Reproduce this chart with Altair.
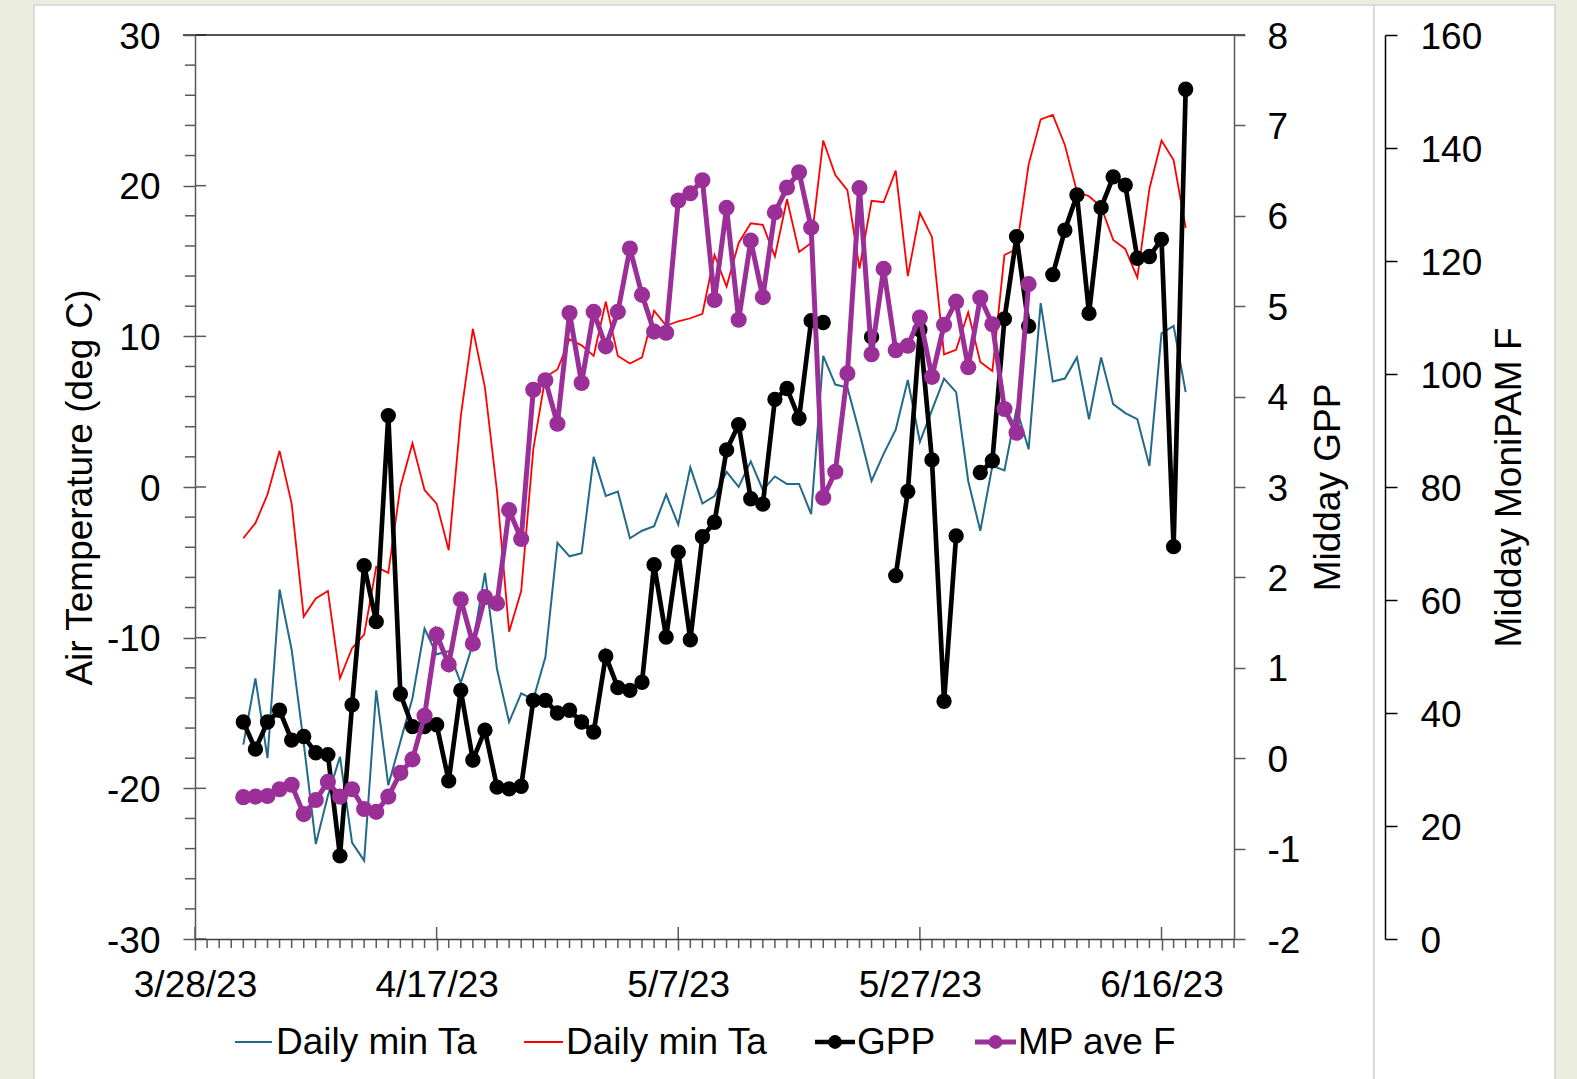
import altair as alt
import pandas as pd

# ---------------- data ----------------
FIRST_DAY = 4          # first sample = 4/1/23, counted in days after 3/28/23
X_END_DAY = 86         # axis ends at 6/22/23

min_ta_blue = [-17.1, -12.7, -18.0, -6.8, -10.8, -17.0, -23.7, -20.5, -17.9, -23.6,
               -24.8, -13.5, -19.8, -16.9, -14.0, -9.4, -11.1, -10.9, -13.0, -10.4,
               -5.7, -12.1, -15.6, -13.7, -14.1, -11.3, -3.7, -4.6, -4.4, 2.0,
               -0.6, -0.3, -3.4, -2.9, -2.6, -0.5, -2.5, 1.3, -1.1, -0.6,
               1.0, 0.0, 1.7, -0.2, 0.7, 0.2, 0.2, -1.8, 8.7, 6.8,
               6.6, 3.6, 0.4, 2.2, 3.8, 7.1, 3.0, 5.1, 7.2, 6.3,
               0.4, -2.9, 1.4, 1.1, 5.2, 2.5, 12.2, 7.0, 7.2, 8.6,
               4.5, 8.6, 5.5, 4.9, 4.5, 1.4, 10.2, 10.7, 6.3]

min_ta_red = [-3.4, -2.4, -0.5, 2.4, -1.1, -8.6, -7.4, -6.9, -12.7, -10.7,
              -9.8, -5.3, -5.7, 0.0, 2.9, -0.2, -1.1, -4.2, 4.7, 10.5,
              6.6, -0.3, -9.6, -6.9, 2.5, 7.3, 7.8, 9.8, 9.4, 8.7,
              12.3, 8.7, 8.2, 8.6, 11.7, 10.7, 11.0, 11.2, 11.5, 15.4,
              13.3, 16.2, 17.5, 17.4, 15.3, 19.1, 15.6, 16.2, 23.0, 20.7,
              19.7, 14.5, 19.0, 18.9, 21.0, 14.0, 18.2, 16.6, 8.8, 9.1,
              11.6, 8.3, 7.7, 15.4, 15.8, 21.4, 24.4, 24.7, 22.7, 19.6,
              19.3, 18.6, 16.4, 15.8, 13.9, 19.8, 23.0, 21.7, 17.2]

gpp = [0.40, 0.10, 0.40, 0.53, 0.20, 0.24, 0.06, 0.04, -1.08, 0.59,
       2.13, 1.51, 3.79, 0.71, 0.35, 0.35, 0.37, -0.25, 0.75, -0.02,
       0.31, -0.32, -0.34, -0.31, 0.64, 0.64, 0.50, 0.53, 0.40, 0.29,
       1.13, 0.78, 0.75, 0.84, 2.14, 1.34, 2.28, 1.31, 2.45, 2.61,
       3.41, 3.69, 2.87, 2.81, 3.97, 4.09, 3.76, 4.84, 4.82, None,
       None, None, 4.66, None, 2.02, 2.95, 4.74, 3.30, 0.63, 2.46,
       None, 3.16, 3.29, 4.86, 5.77, 4.78, None, 5.35, 5.84, 6.23,
       4.92, 6.09, 6.43, 6.34, 5.53, 5.55, 5.74, 2.34, 7.40]

mp_ave_f = [25.1, 25.2, 25.3, 26.5, 27.3, 22.1, 24.6, 27.8, 25.2, 26.5,
            23.0, 22.5, 25.2, 29.4, 31.8, 39.5, 53.9, 48.6, 60.1, 52.3,
            60.5, 59.4, 75.9, 70.8, 97.2, 98.9, 91.2, 110.8, 98.4, 111.0,
            104.9, 111.0, 122.2, 114.0, 107.5, 107.3, 130.7, 132.0, 134.3, 113.1,
            129.4, 109.6, 123.6, 113.6, 128.6, 133.0, 135.7, 125.9, 78.1, 82.7,
            100.1, 132.9, 103.5, 118.6, 104.2, 105.0, 110.0, 99.5, 108.7, 112.8,
            101.2, 113.5, 108.8, 93.8, 89.6, 115.9]

x_tick_days = [0, 20, 40, 60, 80]
x_tick_labels = ["3/28/23", "4/17/23", "5/7/23", "5/27/23", "6/16/23"]
temp_ticks = [-30, -20, -10, 0, 10, 20, 30]
gpp_ticks = [-2, -1, 0, 1, 2, 3, 4, 5, 6, 7, 8]
f_ticks = [0, 20, 40, 60, 80, 100, 120, 140, 160]
legend_labels = ["Daily min Ta", "Daily min Ta", "GPP", "MP ave F"]

# ---------------- tables ----------------
days = list(range(FIRST_DAY, FIRST_DAY + len(min_ta_blue)))
temp_df = pd.DataFrame({"day": days, "blue": min_ta_blue, "red": min_ta_red})

gpp_rows, seg = [], 0
for d, v in zip(days, gpp):
    if v is None:
        seg += 1
    else:
        gpp_rows.append({"day": d, "gpp": v, "seg": seg})
gpp_df = pd.DataFrame(gpp_rows)

f_df = pd.DataFrame({"day": days[:len(mp_ave_f)], "f": mp_ave_f})

minor_days = pd.DataFrame({"day": [d for d in range(0, X_END_DAY + 1) if d not in x_tick_days]})
major_days = pd.DataFrame({"day": x_tick_days})
temp_minor = pd.DataFrame({"v": [v for v in range(-30, 31, 2) if v % 10 != 0]})
temp_major = pd.DataFrame({"v": temp_ticks})
one = pd.DataFrame({"a": [0]})

# ---------------- styles / layout ----------------
FONT = "Liberation Sans"
FS = 37
W, H = 1039, 904
PAD = {"left": 195, "top": 35, "right": 343, "bottom": 140}
AXIS_GRAY = "#595959"
C_BLUE, C_RED, C_BLACK, C_PURPLE = "#22698a", "#ff0000", "#000000", "#9b2f98"

label_expr = "[" + ",".join("'%s'" % s for s in x_tick_labels) + "][round(datum.value / 20)]"
plain_num = "'' + datum.value"   # hyphen-minus like the reference

x_enc = alt.X("day:Q",
              scale=alt.Scale(domain=[0, X_END_DAY], nice=False, zero=False),
              axis=alt.Axis(values=x_tick_days, labelExpr=label_expr, tickSize=11,
                            tickWidth=1.5, tickColor=AXIS_GRAY, domainColor="#404040",
                            domainWidth=1.5, labelFont=FONT, labelFontSize=FS,
                            labelColor="black", labelPadding=17, labelFlush=False,
                            labelOverlap=False, grid=False, title=None, zindex=1))

temp_scale = alt.Scale(domain=[-30, 30], nice=False, zero=False)
gpp_scale = alt.Scale(domain=[-2, 8], nice=False, zero=False)
f_scale = alt.Scale(domain=[0, 160], nice=False, zero=False)

common_axis = dict(labelFont=FONT, labelFontSize=FS, labelColor="black",
                   labelOverlap=False, grid=False, titleFont=FONT, titleFontSize=FS,
                   titleFontWeight="normal", titleColor="black", titleAngle=270,
                   titleAlign="center", titleBaseline="middle", titleY=H / 2,
                   tickWidth=1.5, domainWidth=1.5, labelOffset=2, zindex=1,
                   labelExpr=plain_num)

temp_axis = alt.Axis(orient="left", values=temp_ticks, tickSize=12, tickColor=AXIS_GRAY,
                     domainColor=AXIS_GRAY, labelPadding=23,
                     title="Air Temperature (deg C)", titleX=-115, **common_axis)
gpp_axis = alt.Axis(orient="right", values=gpp_ticks, tickSize=11, tickColor=AXIS_GRAY,
                    domainColor=AXIS_GRAY, labelPadding=22,
                    title="Midday GPP", titleX=94.5, **common_axis)
f_axis = alt.Axis(orient="right", offset=151, values=f_ticks, tickSize=12,
                  tickColor="black", domainColor="black", labelPadding=23,
                  title="Midday MoniPAM F", titleX=124.6, **common_axis)

# ---------------- background panels ----------------
panel1 = alt.Chart(one).mark_rect(fill="white", stroke="#d3d5cc", strokeWidth=1.5).encode(
    x=alt.value(-161), x2=alt.value(1179), y=alt.value(-30), y2=alt.value(1060))
panel2 = alt.Chart(one).mark_rect(fill="white", stroke="#d3d5cc", strokeWidth=1.5).encode(
    x=alt.value(1179), x2=alt.value(1360), y=alt.value(-30), y2=alt.value(1060))

# ---------------- tick decorations ----------------
x_minor = alt.Chart(minor_days).mark_rule(color=AXIS_GRAY, strokeWidth=1.5).encode(
    x=x_enc, y=alt.value(H), y2=alt.value(H + 9))
x_major_in = alt.Chart(major_days).mark_rule(color=AXIS_GRAY, strokeWidth=1.5).encode(
    x=x_enc, y=alt.value(H - 12), y2=alt.value(H))
y_minor = alt.Chart(temp_minor).mark_rule(color=AXIS_GRAY, strokeWidth=1.5).encode(
    y=alt.Y("v:Q", scale=temp_scale, axis=None), x=alt.value(-10), x2=alt.value(0))
y_major_in = alt.Chart(temp_major).mark_rule(color=AXIS_GRAY, strokeWidth=1.5).encode(
    y=alt.Y("v:Q", scale=temp_scale, axis=None), x=alt.value(0), x2=alt.value(11))
top_border = alt.Chart(one).mark_rule(color="#1a1a1a", strokeWidth=1.5).encode(
    x=alt.value(-12), x2=alt.value(W + 11), y=alt.value(0))

# ---------------- series ----------------
blue_line = alt.Chart(temp_df).mark_line(color=C_BLUE, strokeWidth=2).encode(
    x=x_enc, y=alt.Y("blue:Q", scale=temp_scale, axis=temp_axis))
red_line = alt.Chart(temp_df).mark_line(color=C_RED, strokeWidth=1.8).encode(
    x=x_enc, y=alt.Y("red:Q", scale=temp_scale, axis=None))
gpp_line = alt.Chart(gpp_df).mark_line(
    color=C_BLACK, strokeWidth=4.7,
    point=alt.OverlayMarkDef(filled=True, size=235, color=C_BLACK, opacity=1)).encode(
    x=x_enc, y=alt.Y("gpp:Q", scale=gpp_scale, axis=gpp_axis), detail="seg:N")
f_line = alt.Chart(f_df).mark_line(
    color=C_PURPLE, strokeWidth=5,
    point=alt.OverlayMarkDef(filled=True, size=260, color=C_PURPLE, opacity=1)).encode(
    x=x_enc, y=alt.Y("f:Q", scale=f_scale, axis=f_axis))

# ---------------- legend ----------------
LEG_LINE_Y, LEG_TEXT_Y = 1007, 1019
leg_geom = [(40, 77, 81), (329, 368, 371), (620, 660, 662), (780, 821, 823)]
leg_colors = [C_BLUE, C_RED, C_BLACK, C_PURPLE]
leg_widths = [2, 2, 4.7, 5]
leg_marker = [False, False, True, True]
legend_layers = []
for (x1, x2, xt), lab, col, lw, mk in zip(leg_geom, legend_labels, leg_colors, leg_widths, leg_marker):
    legend_layers.append(alt.Chart(one).mark_rule(color=col, strokeWidth=lw).encode(
        x=alt.value(x1), x2=alt.value(x2), y=alt.value(LEG_LINE_Y)))
    if mk:
        legend_layers.append(alt.Chart(one).mark_point(filled=True, size=190, color=col, opacity=1).encode(
            x=alt.value((x1 + x2) / 2), y=alt.value(LEG_LINE_Y)))
    legend_layers.append(alt.Chart(one).mark_text(
        align="left", baseline="alphabetic", font=FONT, fontSize=FS, color="black").encode(
        x=alt.value(xt), y=alt.value(LEG_TEXT_Y), text=alt.value(lab)))

chart = alt.layer(
    panel1, panel2, x_minor, x_major_in, y_minor, y_major_in, top_border,
    blue_line, red_line, gpp_line, f_line, *legend_layers
).resolve_scale(y="independent").properties(
    width=W, height=H,
    autosize=alt.AutoSizeParams(type="none"),
    padding=PAD,
    background="#ebeedf",
).configure_view(stroke="transparent")

chart.save("out.html", embed_options={"renderer": "svg", "actions": False})
